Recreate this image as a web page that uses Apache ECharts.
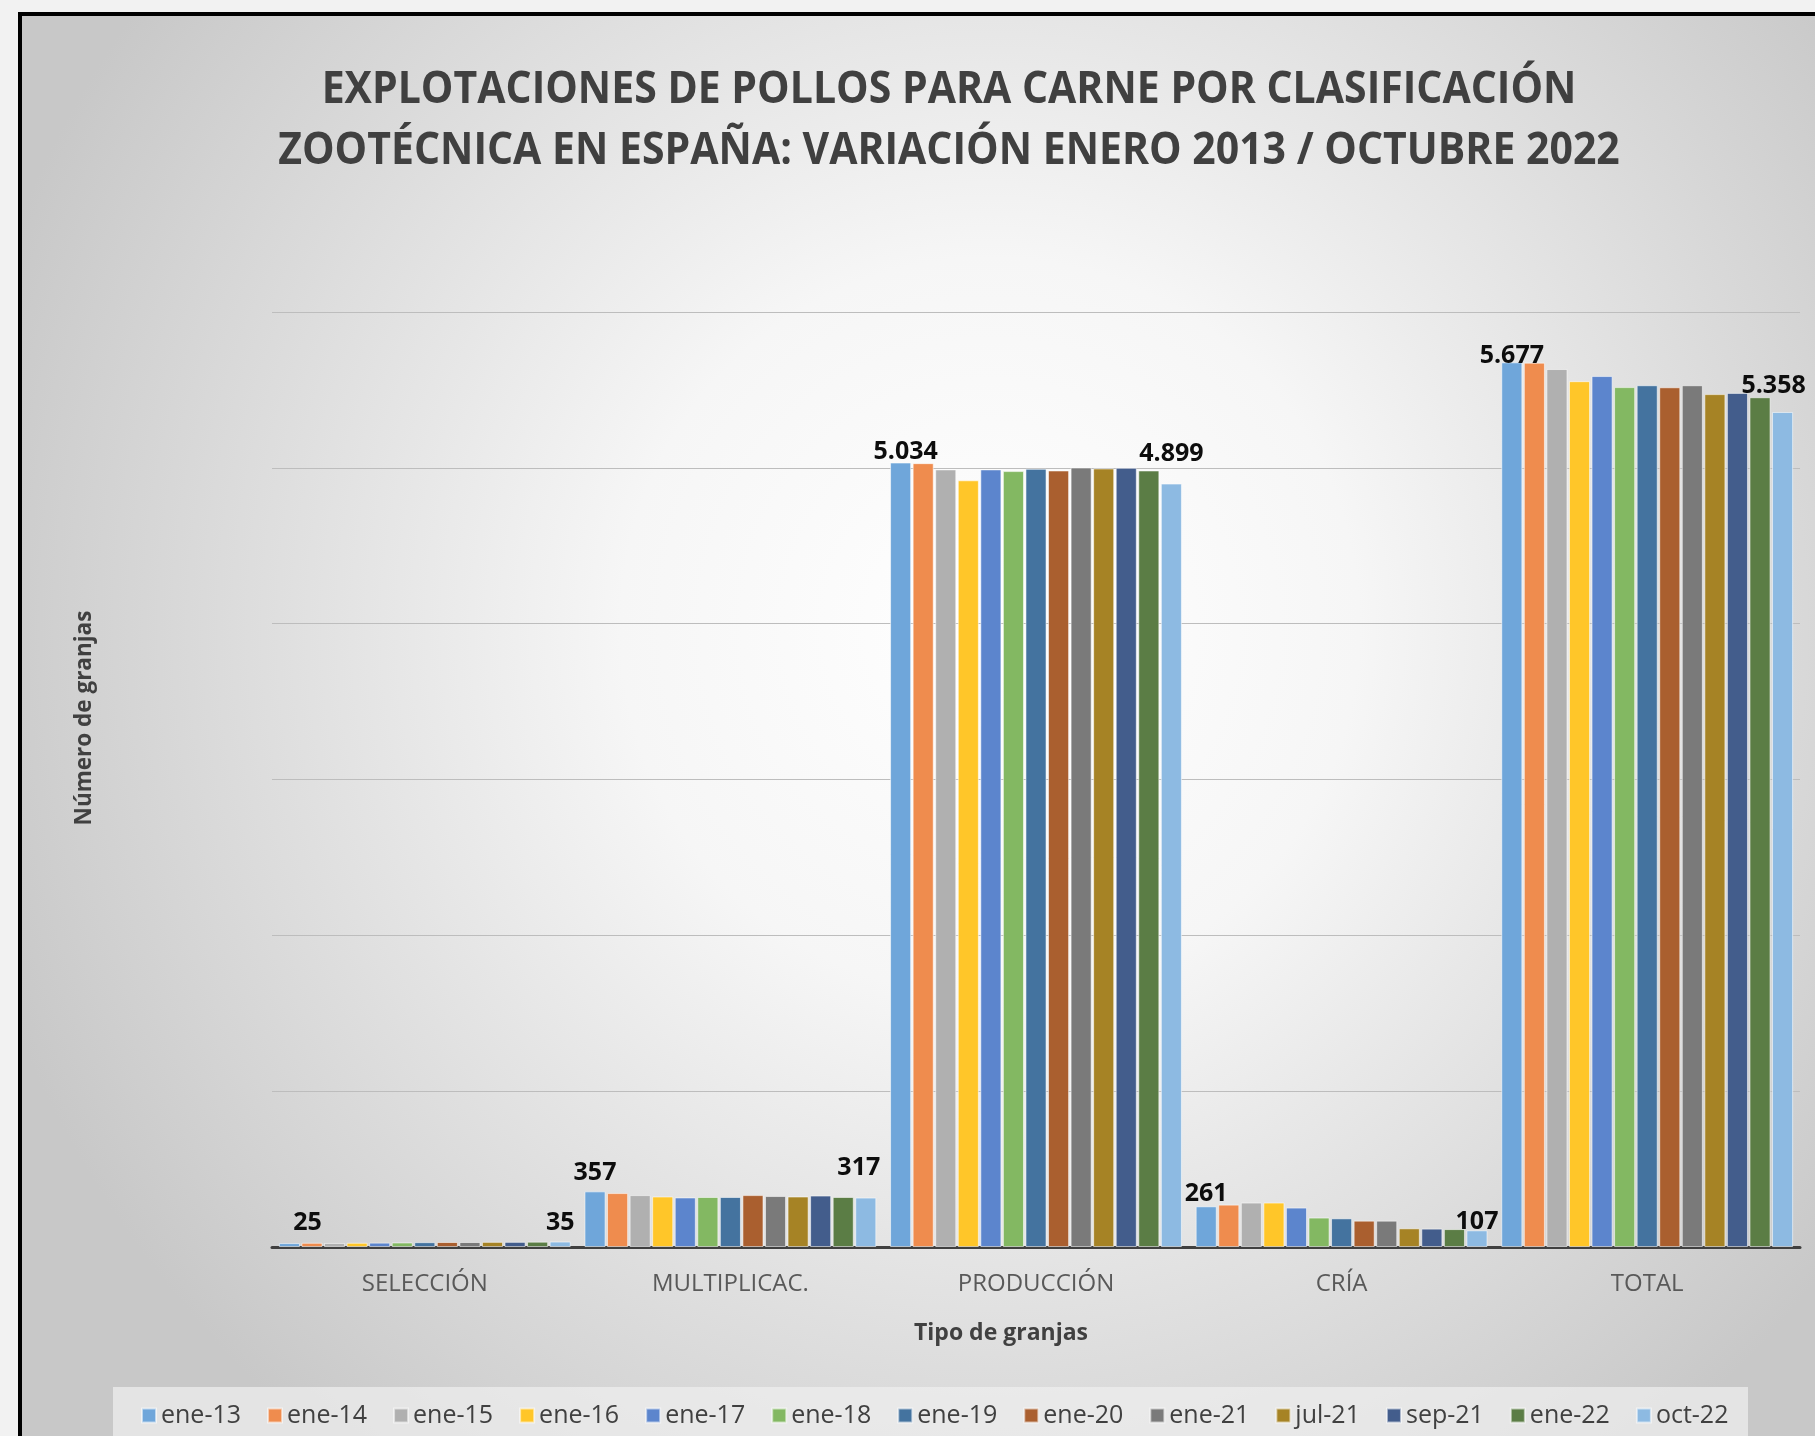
<!DOCTYPE html>
<html>
<head>
<meta charset="utf-8">
<script src="https://cdn.jsdelivr.net/npm/echarts@6/dist/echarts.min.js"></script>
<style>
html,body{margin:0;padding:0;background:#f2f2f2;}
#c{width:1815px;height:1436px;}
</style>
</head>
<body>
<div id="c"></div>
<script>
const titleText = 'EXPLOTACIONES DE POLLOS PARA CARNE POR CLASIFICACIÓN\nZOOTÉCNICA EN ESPAÑA: VARIACIÓN ENERO 2013 / OCTUBRE 2022';
const categories = ['SELECCIÓN', 'MULTIPLICAC.', 'PRODUCCIÓN', 'CRÍA', 'TOTAL'];
const periods = ['ene-13','ene-14','ene-15','ene-16','ene-17','ene-18','ene-19','ene-20','ene-21','jul-21','sep-21','ene-22','oct-22'];
const seleccion      = [25, 27, 26, 27, 28, 29, 31, 32, 32, 33, 33, 34, 35];
const multiplicacion = [357, 346, 333, 324, 318, 321, 321, 333, 327, 324, 330, 321, 317];
const produccion     = [5034, 5030, 4990, 4920, 4990, 4979, 4994, 4983, 5002, 4996, 5000, 4983, 4899];
const cria           = [261, 272, 285, 285, 253, 189, 184, 169, 169, 120, 118, 115, 107];
const total          = [5677, 5675, 5634, 5556, 5589, 5518, 5530, 5517, 5530, 5473, 5481, 5453, 5358];
const yTicks = [0, 1000, 2000, 3000, 4000, 5000, 6000];

const colors = ['#6fa6da','#ef8c4e','#b0b0b0','#ffc629','#5c85cd','#83b862','#44739f','#aa5f2f','#7a7a7a','#a68325','#435d8c','#5b7d45','#8dbae2'];
const byCategory = [seleccion, multiplicacion, produccion, cria, total];

// label offsets for first / last bar in each category [dx, dy]
const firstOffsets = [[18,-3],[0,-1],[5,7],[0,5],[0,11]];
const lastOffsets  = [[0,-1],[-7,-12],[0,-12],[0,9],[-9,-9]];

function fmt(v){ return String(v).replace(/\B(?=(\d{3})+(?!\d))/g, '.'); }

const series = periods.map((p, i) => ({
  name: p,
  type: 'bar',
  barGap: '7%',
  barCategoryGap: '4.5%',
  itemStyle: { color: colors[i], borderColor: 'rgba(255,255,255,0.55)', borderWidth: 1 },
  data: byCategory.map((arr, j) => {
    const item = { value: arr[i] };
    if (i === 0 || i === periods.length - 1) {
      const off = i === 0 ? firstOffsets[j] : lastOffsets[j];
      item.label = {
        show: true, position: 'top', offset: off,
        formatter: (d) => fmt(d.value),
        fontFamily: 'Open Sans', fontWeight: 'bold', fontSize: 25, color: '#0d0d0d'
      };
    }
    return item;
  })
}));

const chart = echarts.init(document.getElementById('c'));
const bg = new echarts.graphic.RadialGradient(0.53, 0.42, 0.72, [
  { offset: 0, color: '#ffffff' },
  { offset: 0.35, color: '#f6f6f6' },
  { offset: 1, color: '#c8c8c8' }
]);

chart.setOption({
  backgroundColor: '#f2f2f2',
  animation: false,
  color: colors,
  graphic: [
    { type: 'rect', z: -10, shape: { x: 20, y: 14, width: 1830, height: 1460 },
      style: { fill: bg, stroke: '#000000', lineWidth: 4 } },
    { type: 'rect', z: -5, shape: { x: 113, y: 1387, width: 1635, height: 60 },
      style: { fill: 'rgba(240,240,240,0.7)' } },
    { type: 'text', x: 949, y: 121, scaleY: 1.1,
      style: { text: titleText, fontFamily: 'Open Sans', fontWeight: 'bold', fontSize: 41, lineHeight: 55.5, fill: '#404040', align: 'center', verticalAlign: 'middle' } },
    { type: 'text', x: 85, y: 718, rotation: Math.PI / 2,
      style: { text: 'Número de granjas', fontFamily: 'Open Sans', fontWeight: 'bold', fontSize: 22.5, fill: '#404040', align: 'center', verticalAlign: 'middle' } },
    { type: 'text', x: 1001, y: 1333,
      style: { text: 'Tipo de granjas', fontFamily: 'Open Sans', fontWeight: 'bold', fontSize: 23, fill: '#404040', align: 'center', verticalAlign: 'middle' } }
  ],
  legend: {
    data: periods,
    left: 136,
    top: 1398,
    itemWidth: 14,
    itemHeight: 14,
    itemGap: 26,
    icon: 'rect',
    textStyle: { fontFamily: 'Open Sans', fontSize: 25, color: '#404040' }
  },
  grid: { left: 272, right: 15, top: 312, bottom: 189, containLabel: false },
  xAxis: {
    type: 'category',
    data: categories,
    axisLine: { lineStyle: { color: '#404040', width: 3 } },
    axisTick: { show: false },
    axisLabel: { fontFamily: 'Open Sans', fontSize: 24, color: '#595959', margin: 25 }
  },
  yAxis: {
    type: 'value',
    min: yTicks[0],
    max: yTicks[yTicks.length - 1],
    interval: yTicks[1] - yTicks[0],
    axisLabel: { show: false },
    axisLine: { show: false },
    axisTick: { show: false },
    splitLine: { lineStyle: { color: '#bdbdbd', width: 1 } }
  },
  series: series
});
</script>
</body>
</html>
